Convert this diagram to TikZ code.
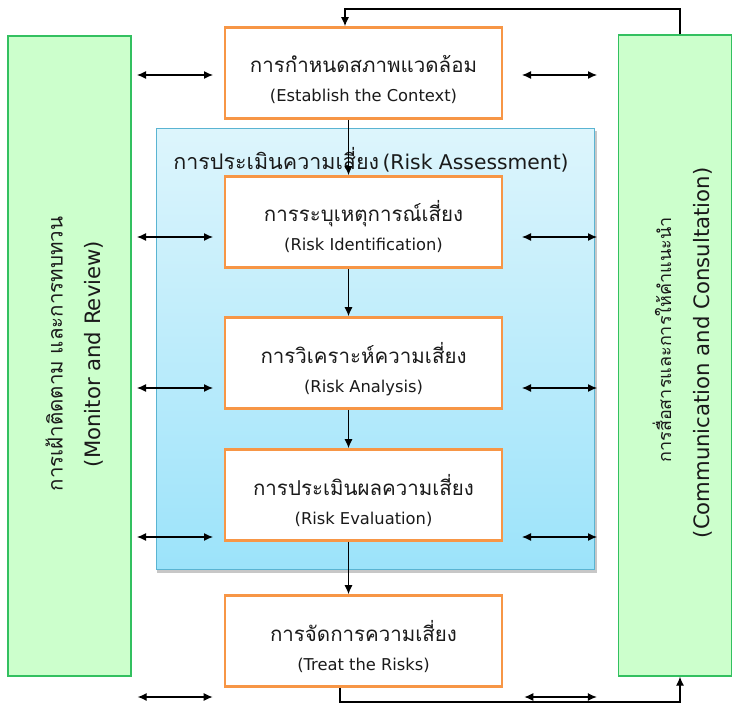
\documentclass[tikz,border=0pt]{standalone}
\usepackage{fontspec}
\setmainfont[Script=Thai]{Loma}
\newfontfamily\latinfont{DejaVu Sans}
\usetikzlibrary{arrows.meta}

\definecolor{stageorange}{HTML}{F79646}
\definecolor{sidegreen}{HTML}{CCFFCC}
\definecolor{sideedge}{HTML}{33C060}
\definecolor{assesstop}{HTML}{DDF5FC}
\definecolor{assessbot}{HTML}{9CE3FA}
\definecolor{assessedge}{HTML}{5AB4D2}
\definecolor{ink}{HTML}{1A1A1A}

\tikzset{
  stagebox/.style={draw=stageorange, line width=2.6pt, fill=white,
    minimum width=277pt, minimum height=91pt, inner sep=0pt},
  stageth/.style={anchor=base, inner sep=0pt, text=ink, font=\fontsize{20.5}{24}\selectfont},
  stageen/.style={anchor=base, inner sep=0pt, text=ink, font=\latinfont\fontsize{16.3}{20}\selectfont},
  sidebox/.style={draw=sideedge, line width=1.3pt, fill=sidegreen, inner sep=0pt},
  sideen/.style={rotate=90, text=ink, font=\latinfont\fontsize{21.2}{25}\selectfont},
  flow/.style={line width=1.2pt, -{Latex[length=9pt,width=8pt]}},
  both/.style={line width=1.2pt, {Latex[length=9pt,width=8pt]}-{Latex[length=9pt,width=8pt]}},
}

% one process stage: framed box, Thai name on the centre line, English name below
\newcommand{\stage}[4]{%
  \node[stagebox] (#1) at (363.5,#2) {};
  \node[stageth] (#1-th) at (#1.center) {#3};
  \node[stageen] (#1-en) at ([yshift=-29pt]#1.center) {#4};
}

\begin{document}
\begin{tikzpicture}[x=1pt, y=-1pt]
\useasboundingbox (0,0) rectangle (732,706);

% side panels
\node[sidebox, minimum width=123pt, minimum height=640pt] (mon) at (69.5,356) {};
\node[sidebox, minimum width=113pt, minimum height=641pt] (comm) at (675,355.5) {};

\node[rotate=90, text=ink, font=\fontsize{20.5}{24}\selectfont] (month) at (54,354) {การเฝ้าติดตาม และการทบทวน};
\node[sideen] (monen) at (94,354) {(Monitor and Review)};
\node[rotate=90, text=ink, font=\fontsize{18}{22}\selectfont] (commth) at (662,340) {การสื่อสารและการให้คำแนะนำ};
\node[sideen] (commen) at (703,353) {(Communication and Consultation)};

% risk assessment panel with its drop shadow
\fill[black!22] (157,131) rectangle (596.5,572.5);
\node[draw=assessedge, line width=1pt, top color=assesstop, bottom color=assessbot,
      minimum width=438pt, minimum height=440pt, inner sep=0pt] (assess) at (375,349) {};
\node[text=ink] (assesstitle) at (371,160)
  {{\fontsize{21.5}{25}\selectfont การประเมินความเสี่ยง} {\latinfont\fontsize{20.3}{25}\selectfont (Risk Assessment)}};

% process stages
\stage{ctx}{73}{การกำหนดสภาพแวดล้อม}{(Establish the Context)}
\stage{ident}{222}{การระบุเหตุการณ์เสี่ยง}{(Risk Identification)}
\stage{anal}{363}{การวิเคราะห์ความเสี่ยง}{(Risk Analysis)}
\stage{eval}{495}{การประเมินผลความเสี่ยง}{(Risk Evaluation)}
\stage{treat}{641}{การจัดการความเสี่ยง}{(Treat the Risks)}

% main flow
\draw[flow] ([xshift=-15pt]ctx.south)   -- ([xshift=-15pt]ident.north);
\draw[flow] ([xshift=-15pt]ident.south) -- ([xshift=-15pt]anal.north);
\draw[flow] ([xshift=-15pt]anal.south)  -- ([xshift=-15pt]eval.north);
\draw[flow] ([xshift=-15pt]eval.south)  -- ([xshift=-15pt]treat.north);

% links to monitoring and communication panels
\foreach \y in {75, 237, 388, 537}{
  \draw[both] (137,\y) -- (213,\y);
  \draw[both] (522,\y) -- (597,\y);
}
\coordinate (lowrow) at (0,697);
\draw[both] ([xshift=6pt]mon.east |- lowrow) -- ([xshift=-11pt]treat.west |- lowrow);
\draw[both] ([xshift=21pt]treat.east |- lowrow) -- ([xshift=-21pt]comm.west |- lowrow);

% feedback loops
\coordinate (ctxin) at ([xshift=-18.5pt]ctx.north);
\coordinate (commout) at ([xshift=5pt]comm.north);
\coordinate (treatout) at ([xshift=-23.5pt]treat.south);
\coordinate (commin) at ([xshift=5pt]comm.south);
\coordinate (toprail) at (0,9);
\coordinate (botrail) at (0,702);
\draw[flow] (commout) -- (commout |- toprail) -- (ctxin |- toprail) -- (ctxin);
\draw[flow] (treatout) -- (treatout |- botrail) -- (commin |- botrail) -- (commin);
\end{tikzpicture}
\end{document}
